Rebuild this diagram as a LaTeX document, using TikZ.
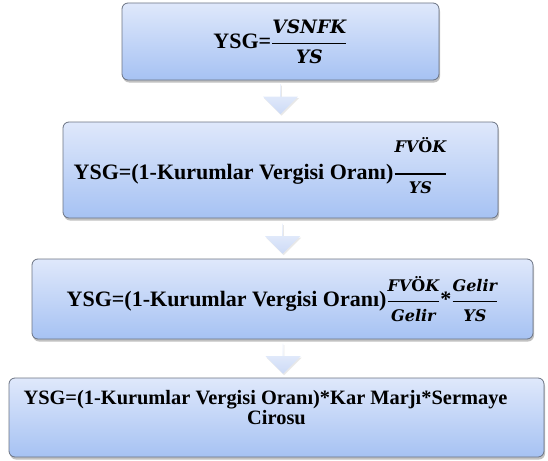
\documentclass[tikz,border=0pt]{standalone}
\usepackage{amsmath}
\usepackage{fontspec}
\setmainfont{Liberation Serif}
\newfontfamily\fracfont{DejaVu Serif}
\usetikzlibrary{shadows,shapes.arrows,calc}

\definecolor{boxtop}{HTML}{DFE8FB}
\definecolor{boxbot}{HTML}{A6C2F3}
\definecolor{boxline}{HTML}{6B7383}
\definecolor{arrtop}{HTML}{CCDAF6}
\definecolor{arrbot}{HTML}{EEF3FD}

\newcommand{\fbi}[1]{\mbox{\fontsize{16}{18}\fracfont\bfseries\itshape #1}}
\newcommand{\fbig}[1]{\mbox{\fontsize{18.5}{20}\fracfont\bfseries\itshape #1}}
\newcommand{\fup}[1]{\mbox{\fontsize{16}{18}\fracfont #1}}
\newcommand{\oran}[3][5pt]{\genfrac{}{}{1.4pt}{0}{#2\rule[-#1]{0pt}{#1}}{\rule{0pt}{15pt}#3}}

\tikzset{
  ratiobox/.style={rectangle, rounded corners=6pt, draw=boxline, line width=0.8pt,
    top color=boxtop, bottom color=boxbot, inner sep=0pt,
    font=\fontsize{22}{22}\selectfont\bfseries, align=center,
    drop shadow={shadow xshift=1pt, shadow yshift=-2.5pt, opacity=0.35, fill=black!70}},
  lastbox/.style={ratiobox, font=\fontsize{20.4}{20}\selectfont\bfseries},
  downarrow/.style={single arrow, shape border rotate=270, draw=none,
    top color=arrbot, bottom color=arrtop, minimum height=30pt, minimum width=35pt,
    single arrow head extend=7pt, inner sep=0pt,
    drop shadow={shadow xshift=1pt, shadow yshift=-1.5pt, opacity=0.15, fill=black!60}}
}

\begin{document}
\begin{tikzpicture}[x=1pt, y=-1pt]
    \useasboundingbox (0,0) rectangle (548,460);

    \node (ysg) [ratiobox, minimum width=317pt, minimum height=77pt] at (280.5,41.5)
        {YSG=$\oran{\fbig{VSNFK}}{\fbig{YS}}$};
    \node (vergi) [ratiobox, minimum width=435pt, minimum height=96pt] at (280.5,170)
        {YSG=(1-Kurumlar Vergisi Oranı)$\oran[17pt]{\fbi{FV}\fup{Ö}\fbi{K}}{\fbi{YS}\rule[-9pt]{0pt}{9pt}}$\hspace*{40pt}};
    \node (gelir) [ratiobox, minimum width=501pt, minimum height=80pt] at (282.5,299)
        {YSG=(1-Kurumlar Vergisi Oranı)$\oran{\fbi{FV}\fup{Ö}\fbi{K}}{\fbi{Gelir}}$*$\oran{\fbi{Gelir}}{\fbi{YS}}$};
    \node (sonuc) [lastbox, minimum width=535pt, minimum height=79pt] at (276.5,417.5)
        {YSG=(1-Kurumlar Vergisi Oranı)*Kar Marjı*Sermaye\hspace*{22pt}\\Cirosu\hspace*{9pt}\\\mbox{}};

    \node (ok1) [downarrow] at ($(ysg.south)!0.45!(vergi.north)$) {};
    \node (ok2) [downarrow, xshift=1pt] at ($(vergi.south)!0.5!(gelir.north)$) {};
    \node (ok3) [downarrow, xshift=3.5pt] at ($(gelir.south)!0.5!(sonuc.north)$) {};
\end{tikzpicture}
\end{document}
